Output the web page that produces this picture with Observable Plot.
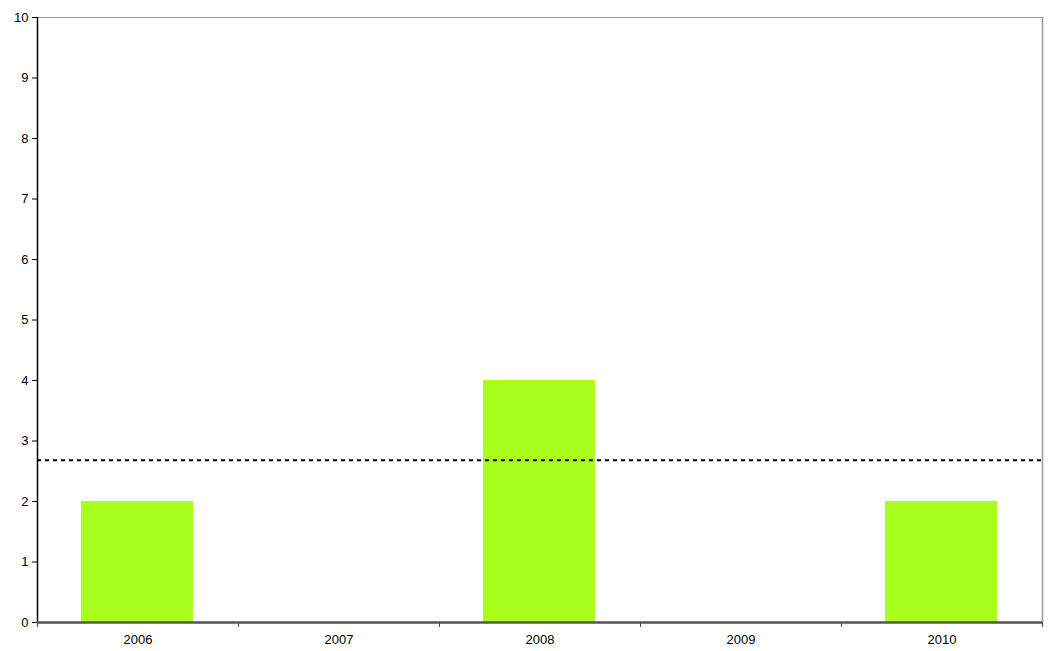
<!DOCTYPE html>
<html>
<head>
<meta charset="utf-8">
<script src="https://cdn.jsdelivr.net/npm/d3@7"></script>
<script src="https://cdn.jsdelivr.net/npm/@observablehq/plot@0.6"></script>
<style>
  html, body { margin: 0; padding: 0; background: #fff; }
  #chart svg { display: block; font-family: "Liberation Sans", Arial, sans-serif; }
</style>
</head>
<body>
<div id="chart"></div>
<script>
const years = [2006, 2007, 2008, 2009, 2010];
const counts = [2, 0, 4, 0, 2];
const average = 2.68;
const yTicks = [0, 1, 2, 3, 4, 5, 6, 7, 8, 9, 10];

const data = years.map((year, i) => ({year, count: counts[i]}));
const bandEdges = years.map(y => y - 0.5).concat([years[years.length - 1] + 0.5]);
const xMin = bandEdges[0], xMax = bandEdges[bandEdges.length - 1];

const chart = Plot.plot({
  width: 1048,
  height: 651,
  marginLeft: 37,
  marginRight: 6,
  marginTop: 17,
  marginBottom: 29,
  style: {fontFamily: "'Liberation Sans', Arial, sans-serif", fontSize: "13px", color: "#000", background: "#fff"},
  x: {domain: [xMin, xMax]},
  y: {domain: [0, 10]},
  marks: [
    Plot.rectY(data, {x1: d => d.year - 0.5, x2: d => d.year + 0.5, y: "count", fill: "#a8ff1c", insetLeft: 44, insetRight: 45}),
    Plot.ruleY([10], {stroke: "#999", strokeWidth: 1}),
    Plot.ruleX([xMax], {stroke: "#999", strokeWidth: 1.5}),
    Plot.ruleY([average], {stroke: "#000", strokeWidth: 2, strokeDasharray: "4,4"}),
    Plot.axisY(yTicks, {tickSize: 5, tickPadding: 4, fontSize: 13, label: null, stroke: "#000", tickFormat: d => String(d)}),
    Plot.axisX(bandEdges, {tickSize: 5, tickFormat: () => "", label: null, stroke: "#444"}),
    Plot.axisX(years, {tickSize: 0, tickPadding: 12, tickFormat: d => String(d), fontSize: 13, label: null}),
    Plot.ruleX([xMin], {stroke: "#000", strokeWidth: 1.5}),
    Plot.ruleY([0], {stroke: "#555", strokeWidth: 2.5})
  ]
});
document.getElementById("chart").appendChild(chart);
</script>
</body>
</html>
